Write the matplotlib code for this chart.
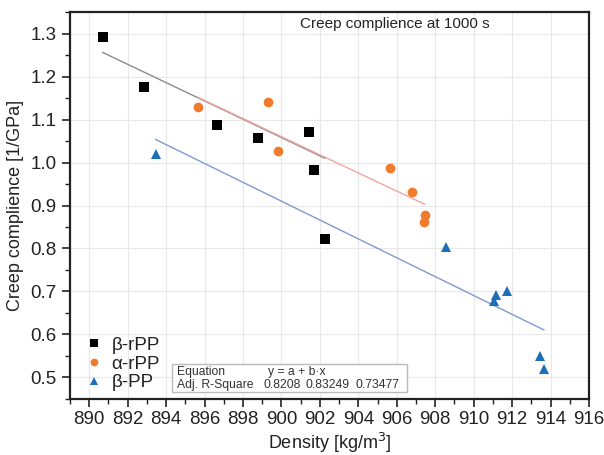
#!/usr/bin/env python3

import numpy as np
from matplotlib import pyplot as plt
from matplotlib.ticker import MultipleLocator

plt.rcParams['font.family'] = ['Liberation Sans', 'DejaVu Sans']

# beta-rPP
brpp_density = [890.7, 892.85, 896.65, 898.8, 901.45, 901.7, 902.25]
brpp_creep = [1.292, 1.175, 1.088, 1.058, 1.071, 0.983, 0.821]
# alpha-rPP
arpp_density = [895.65, 899.3, 899.8, 905.65, 906.8, 907.45, 907.4]
arpp_creep = [1.128, 1.140, 1.026, 0.988, 0.931, 0.879, 0.861]
# beta-PP
bpp_density = [893.45, 908.55, 911.05, 911.15, 911.75, 913.45, 913.65]
bpp_creep = [1.020, 0.804, 0.678, 0.691, 0.702, 0.549, 0.520]

# linear fits y = a + b*x as drawn in the original
fit_a = [20.219, 20.041, 20.647]
fit_b = [-0.02129, -0.02109, -0.02193]
adj_r2 = ['0.8208', '0.83249', '0.73477']

series = [
    ('β-rPP', brpp_density, brpp_creep, 's', 'black', '#8c8c8c'),
    ('α-rPP', arpp_density, arpp_creep, 'o', '#f07b2c', '#f0a6a3'),
    ('β-PP', bpp_density, bpp_creep, '^', '#1d6fb8', '#8099d0'),
]

fig = plt.figure(figsize=(6.04, 4.55), dpi=100)
ax = fig.add_axes([0.1159, 0.1231, 0.8593, 0.8505])

for i, (label, x, y, marker, color, line_color) in enumerate(series):
    x = np.array(x)
    xs = np.array([x.min(), x.max()])
    ax.plot(xs, fit_a[i] + fit_b[i] * xs, color=line_color, lw=1.0, zorder=2)
    ax.plot(x, y, ls='none', marker=marker, color=color, ms=7, mew=0,
            label=label, zorder=3)

ax.set_xlim(889, 916)
ax.set_ylim(0.45, 1.35)
ax.xaxis.set_major_locator(MultipleLocator(2))
ax.xaxis.set_minor_locator(MultipleLocator(1))
ax.yaxis.set_major_locator(MultipleLocator(0.1))
ax.yaxis.set_minor_locator(MultipleLocator(0.05))
ax.grid(True, which='major', color='#e8e8e8', lw=0.8, zorder=0)
ax.set_axisbelow(True)

ax.tick_params(axis='both', which='major', direction='out', length=6, width=1.2,
               labelsize=13.5, colors='#222222')
ax.tick_params(axis='both', which='minor', direction='out', length=3.5, width=1.0,
               colors='#222222')
ax.tick_params(axis='x', pad=3)
for sp in ax.spines.values():
    sp.set_linewidth(1.6)
    sp.set_color('#222222')

ax.set_xlabel('Density [kg/m$^3$]', fontsize=13, color='#222222', labelpad=2)
ax.set_ylabel('Creep complience [1/GPa]', fontsize=13, color='#222222', labelpad=5)

fig.text(0.654, 0.947, 'Creep complience at 1000 s', ha='center', va='center',
         fontsize=11, color='#222222')

leg = ax.legend(loc='center left', bbox_to_anchor=(87 / 604, 1 - 364 / 455),
                bbox_transform=fig.transFigure, frameon=False,
                fontsize=13.5, handlelength=0.8, handletextpad=0.5,
                labelspacing=0.08, borderpad=0, borderaxespad=0, markerscale=0.8)
for t in leg.get_texts():
    t.set_color('#222222')

# equation / R-square box
fig.patches.append(plt.Rectangle((172 / 604, 1 - 392 / 455), 235 / 604, 28 / 455,
                                 transform=fig.transFigure, fc='white',
                                 ec='#bbbbbb', lw=1.0, zorder=4))
row1 = 1 - 372 / 455
row2 = 1 - 385 / 455
fs = 8.7
fig.text(177 / 604, row1, 'Equation', fontsize=fs, va='center', color='#333333', zorder=5)
fig.text(268 / 604, row1, 'y = a + b·x', fontsize=fs, va='center', color='#333333', zorder=5)
fig.text(177 / 604, row2, 'Adj. R-Square', fontsize=fs, va='center', color='#333333', zorder=5)
for xpix, val in zip([264, 305, 356], adj_r2):
    fig.text(xpix / 604, row2, val, fontsize=fs, va='center', color='#333333', zorder=5)

fig.savefig('out.png', dpi=100)
